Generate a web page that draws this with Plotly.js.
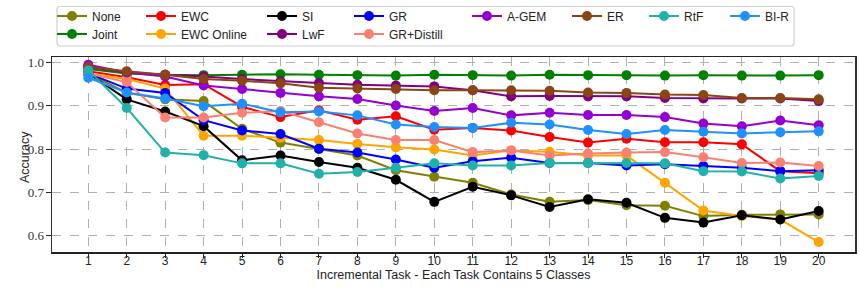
<!DOCTYPE html>
<html>
<head>
<meta charset="utf-8">
<script src="https://cdn.plot.ly/plotly-3.0.1.min.js"></script>
<style>html,body{margin:0;padding:0;background:#fff;}#chart{width:860px;height:288px;}</style>
</head>
<body>
<div id="chart"></div>
<script>
const tasks = [1,2,3,4,5,6,7,8,9,10,11,12,13,14,15,16,17,18,19,20];
const tickLabels = tasks.map(String);

const none      = [0.975,0.930,0.915,0.911,0.847,0.815,0.800,0.785,0.751,0.736,0.722,0.695,0.678,0.682,0.670,0.669,0.645,0.648,0.649,0.649];
const joint     = [0.985,0.975,0.972,0.971,0.972,0.973,0.972,0.971,0.970,0.972,0.971,0.970,0.972,0.971,0.971,0.970,0.971,0.970,0.970,0.971];
const ewc       = [0.980,0.966,0.948,0.950,0.898,0.874,0.890,0.868,0.876,0.845,0.849,0.843,0.828,0.815,0.824,0.816,0.816,0.811,0.749,0.744];
const ewcOnline = [0.975,0.962,0.940,0.831,0.831,0.826,0.821,0.812,0.804,0.799,0.785,0.797,0.794,0.785,0.785,0.722,0.658,0.645,0.637,0.585];
const si        = [0.975,0.915,0.887,0.853,0.774,0.785,0.770,0.757,0.729,0.678,0.713,0.693,0.666,0.684,0.676,0.641,0.630,0.647,0.637,0.657];
const lwf       = [0.990,0.978,0.972,0.968,0.962,0.957,0.953,0.949,0.947,0.945,0.936,0.922,0.923,0.922,0.922,0.918,0.917,0.917,0.917,0.911];
const gr        = [0.975,0.940,0.930,0.867,0.843,0.835,0.801,0.792,0.776,0.757,0.772,0.780,0.768,0.768,0.762,0.765,0.761,0.757,0.749,0.751];
const grDistill = [0.975,0.955,0.873,0.873,0.884,0.888,0.862,0.836,0.821,0.821,0.793,0.797,0.785,0.790,0.792,0.793,0.781,0.768,0.769,0.761];
const agem      = [0.995,0.977,0.968,0.947,0.939,0.930,0.922,0.916,0.901,0.888,0.895,0.878,0.884,0.879,0.879,0.874,0.859,0.853,0.866,0.855];
const er        = [0.990,0.980,0.972,0.962,0.958,0.952,0.942,0.940,0.939,0.936,0.936,0.936,0.935,0.931,0.930,0.926,0.925,0.918,0.918,0.915];
const rtf       = [0.982,0.895,0.792,0.786,0.767,0.767,0.743,0.747,0.757,0.767,0.762,0.762,0.768,0.768,0.768,0.767,0.749,0.748,0.732,0.738];
const bir       = [0.965,0.931,0.917,0.899,0.905,0.885,0.887,0.878,0.857,0.851,0.849,0.861,0.857,0.844,0.835,0.844,0.840,0.836,0.839,0.841];

const yTicks = [0.6,0.7,0.8,0.9,1.0];
const yTickLabels = ['0.6','0.7','0.8','0.9','1.0'];
const xTitle = 'Incremental Task - Each Task Contains 5 Classes';
const yTitle = 'Accuracy';

const seriesNames  = ['None','Joint','EWC','EWC Online','SI','LwF','GR','GR+Distill','A-GEM','ER','RtF','BI-R'];
const seriesValues = [none, joint, ewc, ewcOnline, si, lwf, gr, grDistill, agem, er, rtf, bir];
const seriesColors = ['#808000','#008000','#ff0000','#ffa500','#000000','#800080','#0000ff','#fa8072','#9400d3','#8b4513','#20b2aa','#1e90ff'];
// legend grid: column and row for each series (column-wise fill, 8 columns)
const seriesCol = [0,0,1,1,2,2,3,3,4,5,6,7];
const seriesRow = [0,1,0,1,0,1,0,1,0,0,0,0];

const FONT = 'Liberation Sans, Arial, sans-serif';

const legendKey = i => (i === 0 ? 'legend' : 'legend' + (i + 1));

const traces = seriesNames.map((name, i) => ({
  type: 'scatter',
  mode: 'lines+markers',
  name: name,
  x: tasks,
  y: seriesValues[i],
  legend: legendKey(i),
  line: {color: seriesColors[i], width: 2},
  marker: {color: seriesColors[i], size: 10, symbol: 'circle'}
}));

const plotL = 52, plotR = 855, plotT = 57, plotB = 252;
const pw = plotR - plotL, ph = plotB - plotT;
const px2x = p => (p - plotL) / pw;
const py2y = p => (plotB - p) / ph;
const colStarts = [52, 141, 262, 349, 467, 567, 644, 725];
const rowCenters = [16, 34];

const layout = {
  width: 860, height: 288,
  margin: {l: plotL, r: 860 - plotR, t: plotT, b: 288 - plotB, pad: 0, autoexpand: false},
  paper_bgcolor: '#fff', plot_bgcolor: '#fff',
  font: {family: FONT, size: 12, color: '#222'},
  showlegend: true,
  xaxis: {
    range: [0.056, 20.944],
    tickmode: 'array', tickvals: tasks, ticktext: tickLabels,
    showgrid: true, gridcolor: '#b0b0b0', griddash: 'dash', gridwidth: 1,
    zeroline: false,
    showline: true, linecolor: '#222', linewidth: 1.5, mirror: true,
    ticks: 'outside', ticklen: 4, tickwidth: 1, tickcolor: '#222',
    ticklabelstandoff: -7,
    tickfont: {family: FONT, size: 12, color: '#222'},
    title: {text: xTitle, font: {family: FONT, size: 12.5, color: '#222'}, standoff: 0}
  },
  yaxis: {
    range: [0.562, 1.013],
    tickmode: 'array', tickvals: yTicks, ticktext: yTickLabels,
    showgrid: true, gridcolor: '#b0b0b0', griddash: 'dash', gridwidth: 1,
    zeroline: false,
    showline: true, linecolor: '#333', linewidth: 1.5, mirror: true,
    ticks: 'outside', ticklen: 5, tickwidth: 1, tickcolor: '#222',
    ticklabelstandoff: -1,
    tickfont: {family: 'Liberation Serif, DejaVu Serif, serif', size: 13, color: '#333'},
    title: {text: ''}
  },
  annotations: [{
    text: yTitle, textangle: -90, showarrow: false,
    xref: 'paper', yref: 'paper', x: px2x(25), y: py2y(157),
    xanchor: 'center', yanchor: 'middle',
    font: {family: FONT, size: 12.5, color: '#222'}
  }],
  shapes: [(() => {
    const x0 = px2x(57), x1 = px2x(794), y0 = py2y(46), y1 = py2y(6.5);
    const rx = 3 / pw, ry = 3 / ph;
    return {
      type: 'path', xref: 'paper', yref: 'paper', layer: 'above',
      path: `M ${x0+rx},${y1} L ${x1-rx},${y1} Q ${x1},${y1} ${x1},${y1-ry} L ${x1},${y0+ry} Q ${x1},${y0} ${x1-rx},${y0} L ${x0+rx},${y0} Q ${x0},${y0} ${x0},${y0+ry} L ${x0},${y1-ry} Q ${x0},${y1} ${x0+rx},${y1} Z`,
      line: {color: '#d0d0d0', width: 1.2}, fillcolor: 'rgba(255,255,255,0.8)'
    };
  })()]
};

seriesNames.forEach((name, i) => {
  layout[legendKey(i)] = {
    x: px2x(colStarts[seriesCol[i]]), xanchor: 'left', xref: 'paper',
    y: py2y(rowCenters[seriesRow[i]]), yanchor: 'middle', yref: 'paper',
    orientation: 'v', bgcolor: 'rgba(0,0,0,0)', borderwidth: 0,
    font: {family: FONT, size: 12, color: '#222'}
  };
});

Plotly.newPlot('chart', traces, layout, {displayModeBar: false, staticPlot: true});
</script>
</body>
</html>
